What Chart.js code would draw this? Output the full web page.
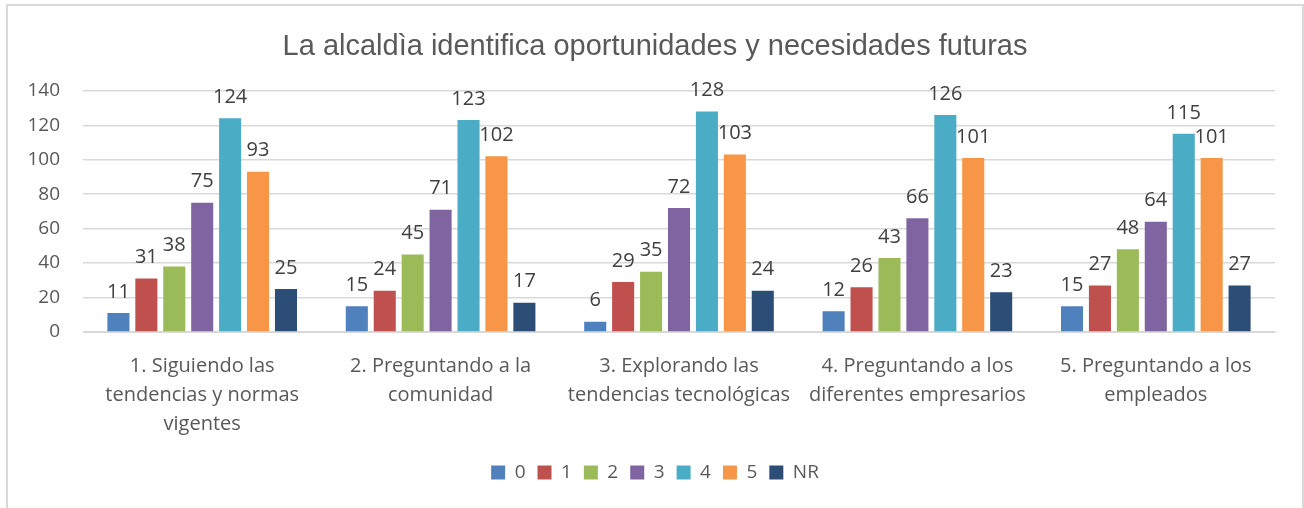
<!DOCTYPE html>
<html>
<head>
<meta charset="utf-8">
<script src="https://cdn.jsdelivr.net/npm/chart.js@4"></script>
<style>
body { margin: 0; background: #fff; }
#box { position: absolute; left: 6px; top: 4px; width: 1294px; height: 510px; border: 2px solid #d9d9d9; }
</style>
</head>
<body>
<div id="box"><canvas id="myChart"></canvas></div>
<script>
// categorias (rotulos em varias linhas)
const categorias = [
  ['1. Siguiendo las', 'tendencias y normas', 'vigentes'],
  ['2. Preguntando a la', 'comunidad'],
  ['3. Explorando las', 'tendencias tecnológicas'],
  ['4. Preguntando a los', 'diferentes empresarios'],
  ['5. Preguntando a los', 'empleados']
];

const serie0 = [11, 15, 6, 12, 15];
const serie1 = [31, 24, 29, 26, 27];
const serie2 = [38, 45, 35, 43, 48];
const serie3 = [75, 71, 72, 66, 64];
const serie4 = [124, 123, 128, 126, 115];
const serie5 = [93, 102, 103, 101, 101];
const serieNR = [25, 17, 24, 23, 27];

const nomes = ['0', '1', '2', '3', '4', '5', 'NR'];
const cores = ['#4F81BD', '#C0504D', '#9BBB59', '#8064A2', '#4BACC6', '#F79646', '#2C4D75'];
const valores = [serie0, serie1, serie2, serie3, serie4, serie5, serieNR];

const yTicks = [0, 20, 40, 60, 80, 100, 120, 140];

// rotulos de dados acima das barras
const rotulos = {
  id: 'rotulos',
  afterDatasetsDraw(chart) {
    const ctx = chart.ctx;
    ctx.save();
    ctx.font = '20px "Open Sans"';
    ctx.fillStyle = '#404040';
    ctx.textAlign = 'center';
    ctx.textBaseline = 'bottom';
    chart.data.datasets.forEach((ds, i) => {
      const meta = chart.getDatasetMeta(i);
      meta.data.forEach((bar, j) => {
        ctx.fillText(ds.data[j], bar.x, bar.y - 11);
      });
    });
    ctx.restore();
  }
};

const data = {
  labels: categorias,
  datasets: nomes.map((n, i) => ({
    label: n,
    data: valores[i],
    backgroundColor: cores[i],
    borderColor: cores[i],
    categoryPercentage: 0.82,
    barPercentage: 0.79
  }))
};

var myChart = new Chart(document.getElementById('myChart'), {
  type: 'bar',
  data: data,
  plugins: [rotulos],
  options: {
    responsive: true,
    maintainAspectRatio: false,
    animation: false,
    layout: { padding: { left: 0, right: 0, top: 10, bottom: 24 } },
    plugins: {
      title: {
        display: true,
        text: 'La alcaldìa identifica oportunidades y necesidades futuras',
        color: '#595959',
        font: { family: '"Liberation Sans", Arial', size: 29, weight: 'normal' },
        padding: { top: 14, bottom: 26 }
      },
      legend: {
        position: 'bottom',
        labels: {
          color: '#595959',
          font: { family: '"Open Sans"', size: 19 },
          boxWidth: 14,
          boxHeight: 14,
          padding: 12
        }
      },
      tooltip: { enabled: false }
    },
    scales: {
      x: {
        grid: { display: false },
        border: { color: '#d9d9d9', width: 1 },
        ticks: {
          color: '#595959',
          font: { family: '"Open Sans"', size: 20, lineHeight: 1.45 },
          maxRotation: 0,
          padding: 12
        }
      },
      y: {
        min: 0,
        max: 140,
        afterBuildTicks: (axis) => { axis.ticks = yTicks.map(v => ({ value: v })); },
        afterFit: (axis) => { axis.width = 75; },
        grid: { color: '#d9d9d9', lineWidth: 1.5, drawTicks: false },
        border: { display: false },
        ticks: {
          color: '#595959',
          font: { family: '"Open Sans"', size: 19 },
          padding: 23
        }
      },
      // eixo vazio so para dar margem a direita
      yDireita: {
        position: 'right',
        min: 0,
        max: 140,
        afterFit: (axis) => { axis.width = 27; },
        grid: { display: false },
        border: { display: false },
        ticks: { display: false }
      }
    }
  }
});
</script>
</body>
</html>
